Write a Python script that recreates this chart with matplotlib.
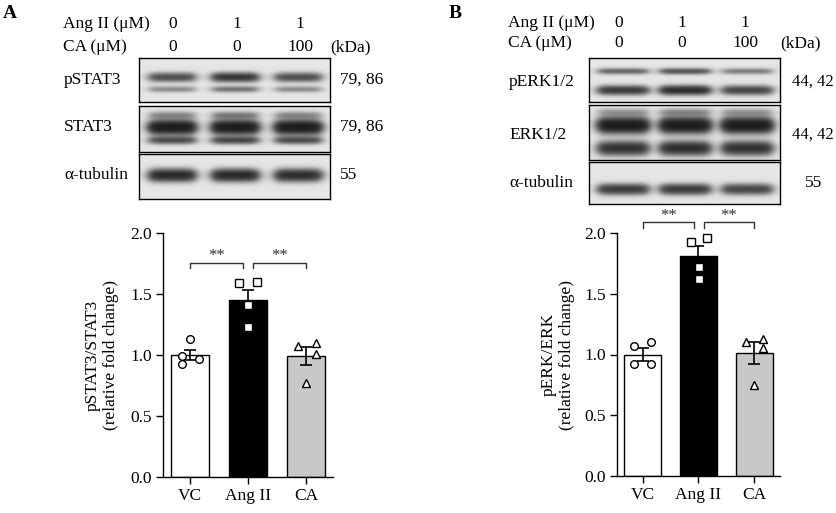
import numpy as np
import matplotlib.pyplot as plt

plt.rcParams['font.family'] = ['Liberation Serif', 'DejaVu Serif']
plt.rcParams['font.size'] = 12.5

W, H = 837, 513

groups = ["VC", "Ang II", "CA"]
angii_dose = ["0", "1", "1"]
ca_dose = ["0", "0", "100"]

# panel A quantification
stat_means = [1.00, 1.45, 0.99]
stat_sem = [0.045, 0.085, 0.075]
stat_pts = [[1.13, 0.99, 0.97, 0.93],
            [1.59, 1.60, 1.41, 1.23],
            [1.07, 1.10, 1.01, 0.77]]
stat_jit = [[0.0, -0.14, 0.16, -0.14],
            [-0.15, 0.15, 0.0, 0.0],
            [-0.14, 0.17, 0.17, 0.0]]

# panel B quantification
erk_means = [1.00, 1.81, 1.01]
erk_sem = [0.05, 0.08, 0.09]
erk_pts = [[1.07, 1.10, 0.92, 0.92],
           [1.93, 1.96, 1.72, 1.62],
           [1.10, 1.125, 1.055, 0.75]]
erk_jit = [[-0.15, 0.14, -0.15, 0.14],
           [-0.14, 0.16, 0.01, 0.01],
           [-0.15, 0.15, 0.15, 0.0]]

# blot band strength per lane
pstat3_bands = [(77, 3.0, [0.55, 0.75, 0.55]), (89, 2.0, [0.25, 0.35, 0.25])]
stat3_bands = [(115, 2.5, [0.25, 0.3, 0.25]), (127, 4.5, [1.2, 1.2, 1.2]),
               (140, 2.5, [0.55, 0.6, 0.55])]
tubA_bands = [(175, 4.0, [0.9, 0.9, 0.85])]
perk_bands = [(71, 2.0, [0.4, 0.5, 0.3]), (90, 3.0, [0.7, 0.85, 0.6])]
erk_bands = [(112, 2.5, [0.2, 0.25, 0.2]), (125, 5.0, [1.2, 1.2, 1.2]),
             (148, 4.5, [0.8, 0.85, 0.8])]
tubB_bands = [(189, 3.5, [0.7, 0.7, 0.6])]


def fig_box(x0, y0, x1, y1):
    return [x0 / W, 1 - y1 / H, (x1 - x0) / W, (y1 - y0) / H]


def ftext(x, y, s, **kw):
    kw.setdefault('va', 'center')
    fig.text(x / W, 1 - y / H, s, **kw)


def draw_blot(box, lane_x, bands, halfw):
    x0, y0, x1, y1 = box
    ax = fig.add_axes(fig_box(*box))
    xs = np.arange(x0, x1, 0.5)
    ys = np.arange(y0, y1, 0.5)
    X, Y = np.meshgrid(xs, ys)
    dens = np.zeros_like(X)
    for yc, sig, levels in bands:
        for xc, lv in zip(lane_x, levels):
            lane = 1 / (1 + np.exp((np.abs(X - xc) - halfw) / 3.0))
            dens += lv * lane * np.exp(-0.5 * ((Y - yc) / sig) ** 2)
    img = 0.9 - 0.85 * (1 - np.exp(-2.2 * dens))
    ax.imshow(img, cmap='gray', vmin=0, vmax=1, extent=(x0, x1, y1, y0),
              aspect='auto', interpolation='bilinear')
    ax.set_xticks([])
    ax.set_yticks([])
    for s in ax.spines.values():
        s.set_linewidth(1.0)


def draw_bars(box, means, sem, pts, jit, ylabel, br_y, star_y):
    ax = fig.add_axes(fig_box(*box))
    x = np.arange(3)
    ax.bar(x, means, width=0.66, color=['white', 'black', '#c8c8c8'],
           edgecolor='black', linewidth=1.0, zorder=2)
    ax.errorbar(x, means, yerr=sem, fmt='none', ecolor='black',
                elinewidth=1.2, capsize=4, capthick=1.2, zorder=3)
    for i, m in enumerate(['o', 's', '^']):
        ax.plot(x[i] + np.array(jit[i]), pts[i], linestyle='none', marker=m,
                ms=5.5, mfc='white', mec='black', mew=1.0, zorder=4,
                clip_on=False)
    ax.set_ylim(0, 2.0)
    ax.set_yticks([0, 0.5, 1.0, 1.5, 2.0])
    ax.set_yticklabels(['0.0', '0.5', '1.0', '1.5', '2.0'])
    ax.set_xticks(x)
    ax.set_xticklabels(groups)
    for s in ['top', 'right']:
        ax.spines[s].set_visible(False)
    for s in ['left', 'bottom']:
        ax.spines[s].set_linewidth(1.0)
    ax.tick_params(direction='out', length=5, width=1.0, pad=3)
    ax.set_ylabel(ylabel, linespacing=1.15)
    ax.yaxis.set_label_coords(-0.26, 0.5)
    for a, b in [(0, 0.92), (1.09, 2.0)]:
        ax.plot([a, a, b, b], [br_y - 0.045, br_y, br_y, br_y - 0.045],
                color='#333333', lw=1.0, clip_on=False)
        ax.text((a + b) / 2, star_y, '**', ha='center', va='center',
                color='#333333', fontsize=12)
    return ax


fig = plt.figure(figsize=(W / 100, H / 100), dpi=100)

# ---- panel A ----
ftext(3, 13, 'A', fontweight='bold', fontsize=14)
ftext(63, 24, 'Ang II (\u03bcM)')
ftext(63, 47, 'CA (\u03bcM)')
for xc, a, c in zip([173, 237, 300], angii_dose, ca_dose):
    ftext(xc, 24, a, ha='center')
    ftext(xc, 47, c, ha='center')
ftext(330, 47, '(kDa)')
laneA = [172, 235, 298]
draw_blot((139, 58, 330, 102), laneA, pstat3_bands, 22)
draw_blot((139, 106, 330, 152), laneA, stat3_bands, 22)
draw_blot((139, 154, 330, 199), laneA, tubA_bands, 22)
ftext(64, 80, 'pSTAT3')
ftext(64, 127, 'STAT3')
ftext(64, 175, '\u03b1-tubulin')
ftext(340, 80, '79, 86')
ftext(340, 127, '79, 86')
ftext(340, 175, '55')
draw_bars((163, 233, 333, 477), stat_means, stat_sem, stat_pts, stat_jit,
          'pSTAT3/STAT3\n(relative fold change)', 1.757, 1.81)

# ---- panel B ----
ftext(449, 13, 'B', fontweight='bold', fontsize=14)
ftext(508, 23, 'Ang II (\u03bcM)')
ftext(508, 43, 'CA (\u03bcM)')
for xc, a, c in zip([619, 682, 745], angii_dose, ca_dose):
    ftext(xc, 23, a, ha='center')
    ftext(xc, 43, c, ha='center')
ftext(780, 43, '(kDa)')
laneB = [623, 685, 747]
draw_blot((589, 58, 780, 102), laneB, perk_bands, 24)
draw_blot((589, 105, 780, 160), laneB, erk_bands, 24)
draw_blot((589, 162, 780, 204), laneB, tubB_bands, 24)
ftext(509, 82, 'pERK1/2')
ftext(509, 135, 'ERK1/2')
ftext(509, 183, '\u03b1-tubulin')
ftext(834, 82, '44, 42', ha='right', fontsize=12)
ftext(834, 135, '44, 42', ha='right', fontsize=12)
ftext(814, 183, '55', ha='center')
draw_bars((617, 233, 780, 476), erk_means, erk_sem, erk_pts, erk_jit,
          'pERK/ERK\n(relative fold change)', 2.09, 2.14)

fig.savefig('out.png', dpi=100)
